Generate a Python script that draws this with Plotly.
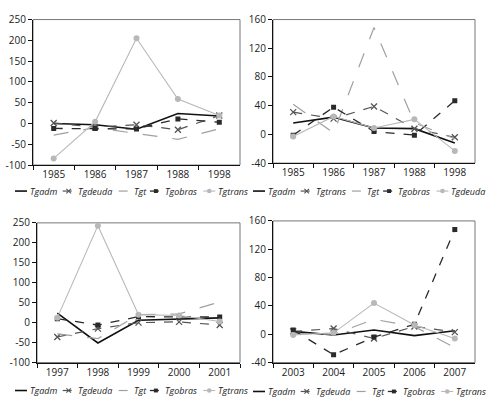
import plotly.graph_objects as go

W, H = 490, 411

# ---- data ----
years_a = ["1985", "1986", "1987", "1988", "1998"]
names_a = ["Tgadm", "Tgdeuda", "Tgt", "Tgobras", "Tgtrans"]
adm_a = [0, -3, -14, 24, 18]
deuda_a = [1, -9, -3, -15, 19]
tgt_a = [-28, -10, -24, -38, -13]
obras_a = [-12, -12, -13, 11, 3]
trans_a = [-84, 4, 205, 59, 19]

years_b = ["1985", "1986", "1987", "1988", "1998"]
names_b = ["Tgadm", "Tgtrans", "Tgt", "Tgobras", "Tgdeuda"]
adm_b = [16, 24, 9, 8, -12]
trans_b = [31, 22, 39, 8, -4]
tgt_b = [42, 2, 149, 16, -6]
obras_b = [-1, 38, 4, -1, 47]
deuda_b = [-3, 25, 9, 21, -23]

years_c = ["1997", "1998", "1999", "2000", "2001"]
names_c = ["Tgadm", "Tgdeuda", "Tgt", "Tgobras", "Tgtrans"]
adm_c = [24, -51, 6, 9, 12]
deuda_c = [-36, -15, 0, 2, -6]
tgt_c = [-28, -40, 20, 22, 52]
obras_c = [10, -6, 15, 14, 14]
trans_c = [12, 243, 20, 18, 3]

years_d = ["2003", "2004", "2005", "2006", "2007"]
names_d = ["Tgadm", "Tgdeuda", "Tgt", "Tgobras", "Tgtrans"]
adm_d = [4, -1, 6, -2, 5]
deuda_d = [4, 8, -6, 11, 3]
tgt_d = [1, 0, 21, 11, -19]
obras_d = [6, -29, -4, 14, 148]
trans_d = [-1, 2, 44, 13, -6]

ticks_big = [-100, -50, 0, 50, 100, 150, 200, 250]
ticks_small = [-40, 0, 40, 80, 120, 160]

# line styles follow the series position, not the name
STYLES = [
    dict(color="#111111", dash="solid", width=1.6, symbol=None),
    dict(color="#555555", dash="dash", width=1.2, symbol="x-thin"),
    dict(color="#a0a0a0", dash="longdash", width=1.2, symbol=None),
    dict(color="#2a2a2a", dash="dash", width=1.3, symbol="square"),
    dict(color="#b8b8b8", dash="solid", width=1.1, symbol="circle"),
]

# (series, years, names, yticks, x-domain px, y-domain px, legend start px)
panels = [
    ([adm_a, deuda_a, tgt_a, obras_a, trans_a], years_a, names_a, ticks_big,
     (33, 240), (12, 163), (15, 190)),
    ([adm_b, trans_b, tgt_b, obras_b, deuda_b], years_b, names_b, ticks_small,
     (273, 475), (12, 161), (253, 190)),
    ([adm_c, deuda_c, tgt_c, obras_c, trans_c], years_c, names_c, ticks_big,
     (37, 240), (223, 368), (15, 397)),
    ([adm_d, deuda_d, tgt_d, obras_d, trans_d], years_d, names_d, ticks_small,
     (273, 475), (221, 368), (253, 398)),
]

CHAR_W = {"T": .58, "g": .6, "a": .6, "d": .65, "m": .98, "e": .6, "u": .65,
          "t": .4, "o": .64, "b": .65, "r": .45, "s": .52, "n": .65}
LEG_FONT = 9
KEY = 12


def px(x, y):
    return x / W, 1 - y / H


def marker_for(st):
    if st["symbol"] is None:
        return dict(size=1, opacity=0)
    if st["symbol"] == "x-thin":
        return dict(symbol="x-thin", size=6, line=dict(color=st["color"], width=1.3))
    if st["symbol"] == "square":
        return dict(symbol="square", size=5, color=st["color"])
    return dict(symbol="circle", size=6, color=st["color"])


def add_legend(fig, names, start):
    x, y = start
    for name, st in zip(names, STYLES):
        x0, y0 = px(x, y)
        x1, _ = px(x + KEY, y)
        fig.add_shape(type="line", xref="paper", yref="paper", x0=x0, x1=x1,
                      y0=y0, y1=y0,
                      line=dict(color=st["color"], width=st["width"],
                                dash="dash" if st["dash"] != "solid" else "solid"))
        cx = x + KEY / 2
        if st["symbol"] == "square":
            a, b = px(cx - 2, y - 2)
            c, d = px(cx + 2, y + 2)
            fig.add_shape(type="rect", xref="paper", yref="paper", x0=a, y0=b,
                          x1=c, y1=d, fillcolor=st["color"], line=dict(width=0))
        elif st["symbol"] == "circle":
            a, b = px(cx - 2.3, y - 2.3)
            c, d = px(cx + 2.3, y + 2.3)
            fig.add_shape(type="circle", xref="paper", yref="paper", x0=a, y0=b,
                          x1=c, y1=d, fillcolor=st["color"], line=dict(width=0))
        elif st["symbol"] == "x-thin":
            for s in (1, -1):
                a, b = px(cx - 2.3, y - 2.3 * s)
                c, d = px(cx + 2.3, y + 2.3 * s)
                fig.add_shape(type="line", xref="paper", yref="paper", x0=a, y0=b,
                              x1=c, y1=d, line=dict(color=st["color"], width=1.1))
        tx, ty = px(x + KEY + 1, y)
        fig.add_annotation(text="<i>" + name + "</i>", xref="paper", yref="paper",
                           x=tx, y=ty, xanchor="left", yanchor="middle",
                           showarrow=False, font=dict(size=LEG_FONT, color="#222"))
        tw = sum(CHAR_W.get(ch, .6) for ch in name) * LEG_FONT
        x += KEY + 1 + tw + 4


fig = go.Figure()
layout = {}

for i, (series, years, names, yticks, xd, yd, leg) in enumerate(panels):
    n = "" if i == 0 else str(i + 1)
    xa, ya = "x" + n, "y" + n
    for vals, name, st in zip(series, names, STYLES):
        fig.add_trace(go.Scatter(
            x=years, y=vals, name=name, xaxis=xa, yaxis=ya,
            mode="lines+markers" if st["symbol"] else "lines",
            line=dict(color=st["color"], width=st["width"], dash=st["dash"]),
            marker=marker_for(st), showlegend=False,
        ))

    layout["xaxis" + n] = dict(
        domain=[xd[0] / W, xd[1] / W], anchor=ya, type="category",
        tickson="boundaries", ticks="outside", ticklen=4, tickcolor="#111",
        showline=True, linecolor="#111", linewidth=1.2, showgrid=False,
        tickfont=dict(size=10, color="#222"), range=[-0.5, 4.5],
    )
    layout["yaxis" + n] = dict(
        domain=[1 - yd[1] / H, 1 - yd[0] / H], anchor=xa,
        range=[yticks[0], yticks[-1]], tickvals=yticks,
        ticktext=[str(v) for v in yticks],
        ticks="outside", ticklen=4, tickcolor="#111",
        showline=True, linecolor="#111", linewidth=1.2, showgrid=False,
        zeroline=False, tickfont=dict(size=10, color="#222"),
    )

    # plot-area frame and the vertical marker at the middle year
    fig.add_shape(type="rect", xref=xa + " domain", yref=ya + " domain",
                  x0=0, x1=1, y0=0, y1=1, line=dict(color="#777", width=1),
                  layer="below")
    fig.add_shape(type="line", xref=xa, yref=ya + " domain",
                  x0=years[2], x1=years[2], y0=0, y1=1,
                  line=dict(color="#222", width=1.2))
    add_legend(fig, names, leg)

fig.update_layout(
    width=W, height=H,
    margin=dict(l=0, r=0, t=0, b=0),
    paper_bgcolor="white", plot_bgcolor="white",
    font=dict(family="Open Sans, Noto Sans, sans-serif"),
    **layout,
)

fig.write_html("out.html", config={"displayModeBar": False},
               post_script="document.body.style.margin='0px';")
